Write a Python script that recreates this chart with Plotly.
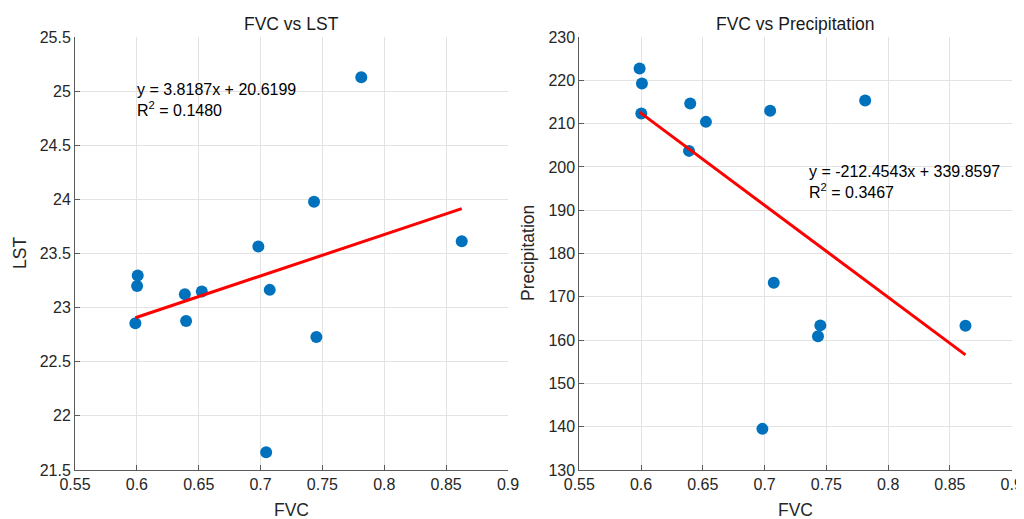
import plotly.graph_objects as go

# ---- data ----
fvc = [0.5988, 0.6002, 0.6007, 0.6388, 0.6398, 0.6525, 0.6982,
       0.7045, 0.7074, 0.7432, 0.7451, 0.7814, 0.8626]
lst = [22.856, 23.20, 23.296, 23.124, 22.877, 23.148, 23.565,
       21.664, 23.164, 23.978, 22.729, 25.129, 23.614]
precip = [222.7, 212.35, 219.26, 203.7, 214.65, 210.4, 139.5,
          212.95, 173.25, 160.9, 163.4, 215.35, 163.3]

lst_slope, lst_intercept, lst_r2 = 3.8187, 20.6199, 0.1480
pr_slope, pr_intercept, pr_r2 = -212.4543, 339.8597, 0.3467

x_ticks = [0.55, 0.6, 0.65, 0.7, 0.75, 0.8, 0.85, 0.9]
lst_ticks = [21.5, 22, 22.5, 23, 23.5, 24, 24.5, 25, 25.5]
pr_ticks = [130, 140, 150, 160, 170, 180, 190, 200, 210, 220, 230]

# page is offset by the browser's 8px body margin
OFF = 8
W, H = 1024 - OFF, 519 - OFF
FONT = "Liberation Sans, Arial, sans-serif"
BLUE = "#0072BD"
TXT = "#262626"
GRID = "#e3e3e3"
AX = "#5a5a5a"

def px(p):
    return (p - OFF) / W

def py(p):
    return (H - (p - OFF)) / H

xmin, xmax = min(fvc), max(fvc)
fit_x = [xmin, xmax]

fig = go.Figure()
fig.add_trace(go.Scatter(x=fvc, y=lst, mode="markers",
                         marker=dict(color=BLUE, size=12), xaxis="x", yaxis="y",
                         showlegend=False))
fig.add_trace(go.Scatter(x=fit_x, y=[lst_slope * v + lst_intercept for v in fit_x],
                         mode="lines", line=dict(color="#ff0000", width=3),
                         xaxis="x", yaxis="y", showlegend=False))
fig.add_trace(go.Scatter(x=fvc, y=precip, mode="markers",
                         marker=dict(color=BLUE, size=12), xaxis="x2", yaxis="y2",
                         showlegend=False))
fig.add_trace(go.Scatter(x=fit_x, y=[pr_slope * v + pr_intercept for v in fit_x],
                         mode="lines", line=dict(color="#ff0000", width=3),
                         xaxis="x2", yaxis="y2", showlegend=False))

y_dom = [py(470), py(37)]
xd1 = [px(75), px(508)]
xd2 = [px(579.3), px(1011.7)]

def xaxis(dom, anchor):
    return dict(domain=dom, anchor=anchor, range=[0.55, 0.9], tickvals=x_ticks,
                ticktext=[f"{v:g}" for v in x_ticks], automargin=False,
                showgrid=True, gridcolor=GRID, gridwidth=1, zeroline=False,
                showline=True, linecolor=AX, linewidth=1, ticks="inside",
                ticklen=5, tickcolor=AX, tickfont=dict(size=16, color=TXT, family=FONT))

def yaxis(dom, anchor, rng, ticks):
    return dict(domain=dom, anchor=anchor, range=rng, tickvals=ticks,
                ticktext=[f"{v:g}" for v in ticks], automargin=False,
                showgrid=True, gridcolor=GRID, gridwidth=1, zeroline=False,
                showline=True, linecolor=AX, linewidth=1, ticks="inside",
                ticklen=5, tickcolor=AX, tickfont=dict(size=16, color=TXT, family=FONT))

annots = [
    dict(text="FVC vs LST", x=(xd1[0] + xd1[1]) / 2, y=py(24), xref="paper", yref="paper",
         showarrow=False, font=dict(size=17.5, color="#1a1a1a", family=FONT), xanchor="center", yanchor="middle"),
    dict(text="FVC vs Precipitation", x=(xd2[0] + xd2[1]) / 2, y=py(24), xref="paper", yref="paper",
         showarrow=False, font=dict(size=17.5, color="#1a1a1a", family=FONT), xanchor="center", yanchor="middle"),
    dict(text="FVC", x=(xd1[0] + xd1[1]) / 2, y=py(510), xref="paper", yref="paper",
         showarrow=False, font=dict(size=17.5, color=TXT, family=FONT), xanchor="center", yanchor="middle"),
    dict(text="FVC", x=(xd2[0] + xd2[1]) / 2, y=py(510), xref="paper", yref="paper",
         showarrow=False, font=dict(size=17.5, color=TXT, family=FONT), xanchor="center", yanchor="middle"),
    dict(text="LST", x=px(20), y=py(253), xref="paper", yref="paper", textangle=-90,
         showarrow=False, font=dict(size=17.5, color=TXT, family=FONT), xanchor="center", yanchor="middle"),
    dict(text="Precipitation", x=px(528), y=py(253), xref="paper", yref="paper", textangle=-90,
         showarrow=False, font=dict(size=17.5, color=TXT, family=FONT), xanchor="center", yanchor="middle"),
    dict(text=f"y = {lst_slope:.4f}x + {lst_intercept:.4f}<br>R<sup>2</sup> = {lst_r2:.4f}",
         x=0.5985, y=24.917, xref="x", yref="y", showarrow=False, align="left",
         xanchor="left", yanchor="middle", font=dict(size=16, color="#000000", family=FONT)),
    dict(text=f"y = {pr_slope:.4f}x + {pr_intercept:.4f}<br>R<sup>2</sup> = {pr_r2:.4f}",
         x=0.7343, y=196.5, xref="x2", yref="y2", showarrow=False, align="left",
         xanchor="left", yanchor="middle", font=dict(size=16, color="#000000", family=FONT)),
]

fig.update_layout(
    width=W, height=H, margin=dict(l=0, r=0, t=0, b=0, pad=0),
    paper_bgcolor="white", plot_bgcolor="white",
    xaxis=xaxis(xd1, "y"),
    yaxis=yaxis(y_dom, "x", [21.5, 25.5], lst_ticks),
    xaxis2=xaxis(xd2, "y2"),
    yaxis2=yaxis(y_dom, "x2", [130, 230], pr_ticks),
    annotations=annots,
    font=dict(family=FONT),
)

fig.write_html("out.html")
